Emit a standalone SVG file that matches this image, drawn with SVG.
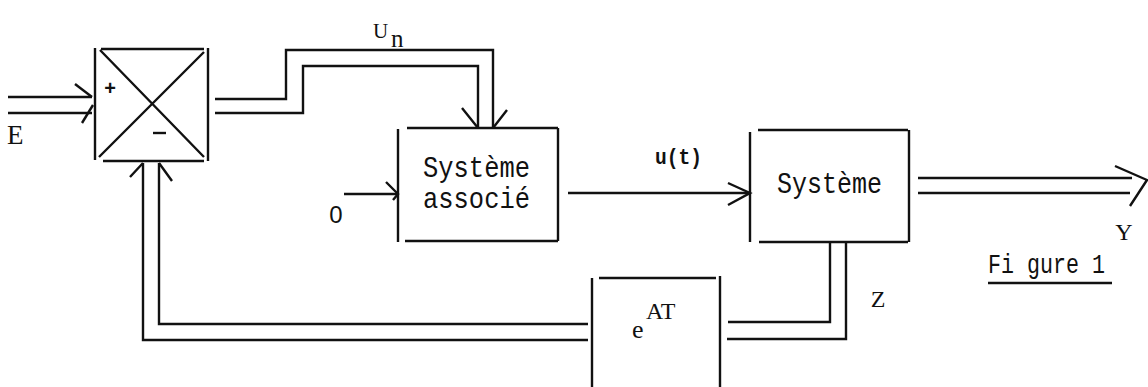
<svg xmlns="http://www.w3.org/2000/svg" width="1148" height="387" viewBox="0 0 1148 387">
  <style>
    .ln { fill: none; stroke: #111; stroke-width: 2.4; stroke-linecap: butt; stroke-linejoin: miter; }
    .mono { font-family: "Liberation Mono", "DejaVu Sans Mono", monospace; fill: #111; }
    .serif { font-family: "Liberation Serif", "DejaVu Serif", serif; fill: #111; }
    .sans { font-family: "Liberation Sans", "DejaVu Sans", sans-serif; fill: #111; }
  </style>
  <rect width="1148" height="387" fill="#fff"/>

  <!-- comparator -->
  <g id="comparator">
    <path class="ln" d="M95 48 V160 M208 48 V161 M101 49 H204 M103 161 H204"/>
    <path class="ln" d="M100 50 L204 157 M204 52 L99 157"/>
    <text class="sans" x="110" y="95" font-size="20" font-weight="bold" text-anchor="middle">+</text>
    <path class="ln" d="M153 133 H166"/>
  </g>

  <!-- associated system -->
  <g id="systeme-associe">
    <path class="ln" d="M398 129 V242 M407 128 H558 M558 128 V241 M405 241 H558"/>
    <text class="mono" x="423" y="177" font-size="29" textLength="107" lengthAdjust="spacingAndGlyphs">Système</text>
    <text class="mono" x="423" y="208" font-size="29" textLength="107" lengthAdjust="spacingAndGlyphs">associé</text>
  </g>

  <!-- plant -->
  <g id="systeme">
    <path class="ln" d="M750 132 V242 M758 130 H908 M909 130 V242 M759 242 H908"/>
    <text class="mono" x="777" y="193" font-size="29" textLength="105" lengthAdjust="spacingAndGlyphs">Système</text>
  </g>

  <!-- transition matrix block -->
  <g id="eAT">
    <path class="ln" d="M592 278 V387 M599 278 H716 M720 276 V387"/>
    <text class="serif" x="632" y="338" font-size="26">e</text>
    <text class="serif" x="646" y="319" font-size="24">AT</text>
  </g>

  <!-- connectors -->
  <g id="connectors">
    <!-- E input -->
    <path class="ln" d="M8 97 H92 M8 113 H92"/>
    <path class="ln" d="M75 84 L92 97"/>
    <path class="ln" d="M82 123 L93 105" stroke-width="3.2"/>
    <!-- Un to associated system -->
    <path class="ln" d="M215 99 H286 V50 H493 V128"/>
    <path class="ln" d="M215 113 H303 V66 H478 V128"/>
    <path class="ln" d="M462 108 L478 128 M507 110 L493 128"/>
    <!-- zero input -->
    <path class="ln" d="M344 194 H397"/>
    <path class="ln" d="M386 182 L398 194 L393 200"/>
    <!-- u(t) -->
    <path class="ln" d="M568 193 H749"/>
    <path class="ln" d="M728 183 L750 193 L728 205"/>
    <!-- Y output -->
    <path class="ln" d="M918 178 H1132 M918 193 H1130"/>
    <path class="ln" d="M1115 166 L1147 180 L1130 206"/>
    <!-- Z to eAT -->
    <path class="ln" d="M830 243 V322 H728"/>
    <path class="ln" d="M846 243 V339 H727"/>
    <!-- feedback to comparator -->
    <path class="ln" d="M588 324 H159 V163"/>
    <path class="ln" d="M588 340 H143 V163"/>
    <path class="ln" d="M130 177 L143 163 M172 181 L159 163"/>
  </g>

  <!-- labels -->
  <g id="labels">
    <text class="serif" x="7" y="144" font-size="27">E</text>
    <text class="serif" x="373" y="38" font-size="21">U</text>
    <text class="serif" x="391" y="47" font-size="25">n</text>
    <text class="sans" x="336" y="223" font-size="24" text-anchor="middle">0</text>
    <text class="mono" x="655" y="164" font-size="22" font-weight="bold" textLength="47" lengthAdjust="spacingAndGlyphs">u(t)</text>
    <text class="serif" x="1124" y="240" font-size="24" text-anchor="middle">Y</text>
    <text class="serif" x="878" y="307" font-size="24" text-anchor="middle">Z</text>
    <text class="mono" x="988" y="273" font-size="28" textLength="117" lengthAdjust="spacingAndGlyphs">Fi gure 1</text>
    <path class="ln" d="M988 283 H1112"/>
  </g>
</svg>
